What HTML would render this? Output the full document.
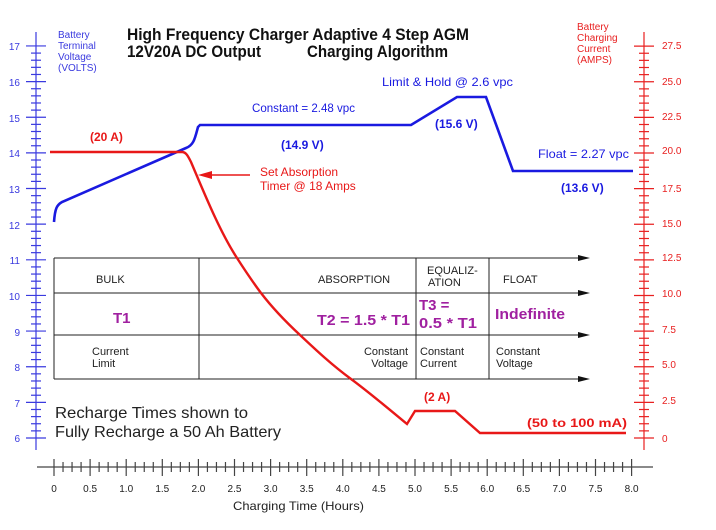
<!DOCTYPE html>
<html><head><meta charset="utf-8"><style>
body{margin:0;background:#fff}
svg text{font-family:"Liberation Sans",sans-serif}
</style></head><body>
<svg width="716" height="525" viewBox="0 0 716 525" xmlns="http://www.w3.org/2000/svg">
<g id="lax" stroke="#3a3adf" stroke-width="1.2"></g>
<g id="rax" stroke="#e82020" stroke-width="1.2"></g>
<g id="xax" stroke="#444" stroke-width="1.2"></g>
<g font-size="10" fill="#3a3adf">
<text x="20" y="50" text-anchor="end">17</text><text x="20" y="86" text-anchor="end">16</text><text x="20" y="122" text-anchor="end">15</text><text x="20" y="157" text-anchor="end">14</text><text x="20" y="193" text-anchor="end">13</text><text x="20" y="229" text-anchor="end">12</text><text x="20" y="264" text-anchor="end">11</text><text x="20" y="300" text-anchor="end">10</text><text x="20" y="336" text-anchor="end">9</text><text x="20" y="371" text-anchor="end">8</text><text x="20" y="407" text-anchor="end">7</text><text x="20" y="442" text-anchor="end">6</text>
<text x="58" y="38">Battery</text><text x="58" y="49">Terminal</text><text x="58" y="60">Voltage</text><text x="58" y="71">(VOLTS)</text>
</g>
<g font-size="10" fill="#e82020">
<text x="662" y="49">27.5</text><text x="662" y="85">25.0</text><text x="662" y="120">22.5</text><text x="662" y="154">20.0</text><text x="662" y="192">17.5</text><text x="662" y="227">15.0</text><text x="662" y="261">12.5</text><text x="662" y="297">10.0</text><text x="662" y="333">7.5</text><text x="662" y="368">5.0</text><text x="662" y="404">2.5</text><text x="662" y="442">0</text>
<text x="577" y="30">Battery</text><text x="577" y="41">Charging</text><text x="577" y="52">Current</text><text x="577" y="63">(AMPS)</text>
</g>
<g font-size="17" font-weight="bold" fill="#111"><text x="127" y="40" textLength="342" lengthAdjust="spacingAndGlyphs">High Frequency Charger Adaptive 4 Step AGM</text><text x="127" y="57" textLength="134" lengthAdjust="spacingAndGlyphs">12V20A DC Output</text><text x="307" y="57" textLength="141" lengthAdjust="spacingAndGlyphs">Charging Algorithm</text></g>
<g stroke="#222" stroke-width="1" fill="none">
<line x1="54" y1="258" x2="580" y2="258"/><line x1="54" y1="293" x2="580" y2="293"/><line x1="54" y1="335" x2="580" y2="335"/><line x1="54" y1="379" x2="580" y2="379"/>
<line x1="54" y1="258" x2="54" y2="379"/><line x1="199" y1="258" x2="199" y2="379"/><line x1="416" y1="258" x2="416" y2="379"/><line x1="489" y1="258" x2="489" y2="379"/>
</g>
<g fill="#111"><polygon points="578,255 590,258 578,261"/><polygon points="578,290 590,293 578,296"/><polygon points="578,332 590,335 578,338"/><polygon points="578,376 590,379 578,382"/></g>
<g font-size="11" fill="#222">
<text x="96" y="283">BULK</text><text x="318" y="283">ABSORPTION</text><text x="427" y="274">EQUALIZ-</text><text x="428" y="286">ATION</text><text x="503" y="283">FLOAT</text>
<text x="92" y="355">Current</text><text x="92" y="367">Limit</text>
<text x="408" y="355" text-anchor="end">Constant</text><text x="408" y="367" text-anchor="end">Voltage</text>
<text x="420" y="355">Constant</text><text x="420" y="367">Current</text>
<text x="496" y="355">Constant</text><text x="496" y="367">Voltage</text>
</g>
<g font-size="15" font-weight="bold" fill="#a020a0">
<text x="113" y="323">T1</text><text x="410" y="325" text-anchor="end" textLength="93" lengthAdjust="spacingAndGlyphs">T2 = 1.5 * T1</text><text x="419" y="310">T3 =</text><text x="419" y="328" textLength="58" lengthAdjust="spacingAndGlyphs">0.5 * T1</text><text x="495" y="319" textLength="70" lengthAdjust="spacingAndGlyphs">Indefinite</text>
</g>
<path d="M54,222 C55,208 57,205 62,202 L186,148 C194,145 195,138 198,127 L200,125 L411,125 L457,97 L486,97 L513,171 L633,171" fill="none" stroke="#1a1ae0" stroke-width="2.6"/>
<path d="M50,152 L182,152 C186,152 188,156 191,162 C205,195 220,232 237,258 C246,272 252,281 261,293 C274,310 286,322 300,335 C317,351 332,365 351,379 C370,393 390,410 407,424 L415,411 L455,411 L480,433 L626,433" fill="none" stroke="#e81818" stroke-width="2.4"/>
<line x1="210" y1="175" x2="250" y2="175" stroke="#e81818" stroke-width="1.5"/><polygon points="198,175 212,171 212,179" fill="#e81818"/>
<g font-size="12" fill="#1a1ae0">
<text x="252" y="112" textLength="103" lengthAdjust="spacingAndGlyphs">Constant = 2.48 vpc</text><text x="382" y="86" textLength="131" lengthAdjust="spacingAndGlyphs">Limit &amp; Hold @ 2.6 vpc</text><text x="538" y="158" textLength="91" lengthAdjust="spacingAndGlyphs">Float = 2.27 vpc</text>
</g>
<g font-size="12" font-weight="bold" fill="#1a1ae0"><text x="281" y="149">(14.9 V)</text><text x="435" y="128">(15.6 V)</text><text x="561" y="192">(13.6 V)</text></g>
<g font-size="12" font-weight="bold" fill="#e81818"><text x="90" y="141">(20 A)</text><text x="424" y="401">(2 A)</text><text x="527" y="427" textLength="100" lengthAdjust="spacingAndGlyphs">(50 to 100 mA)</text></g>
<g font-size="12" fill="#e81818"><text x="260" y="176">Set Absorption</text><text x="260" y="190">Timer @ 18 Amps</text></g>
<g font-size="16" fill="#222"><text x="55" y="418" textLength="193" lengthAdjust="spacingAndGlyphs">Recharge Times shown to</text><text x="55" y="437" textLength="226" lengthAdjust="spacingAndGlyphs">Fully Recharge a 50 Ah Battery</text></g>
<text x="233" y="510" font-size="12" fill="#222" textLength="131" lengthAdjust="spacingAndGlyphs">Charging Time (Hours)</text>
<g id="xl" font-size="10" fill="#222" text-anchor="middle"></g>
<script>
var ns="http://www.w3.org/2000/svg";
function ln(g,x1,y1,x2,y2){var l=document.createElementNS(ns,"line");l.setAttribute("x1",x1);l.setAttribute("y1",y1);l.setAttribute("x2",x2);l.setAttribute("y2",y2);document.getElementById(g).appendChild(l);}
ln("lax",36,32,36,450);
for(var i=0;i<=55;i++){var y=438-i*0.2*35.64;var maj=i%5==0;ln("lax",maj?26:31,y,maj?46:41,y);}
ln("rax",644,32,644,450);
for(var i=0;i<=55;i++){var y=438-i*0.5*14.25;var maj=i%5==0;ln("rax",maj?634:639,y,maj?654:649,y);}
ln("xax",37,467,653,467);
var xl=document.getElementById("xl");
for(var i=0;i<=64;i++){var x=54+i*0.125*72.2;var maj=i%4==0;ln("xax",x,maj?459:462,x,maj?476:472);
if(maj){var t=document.createElementNS(ns,"text");t.setAttribute("x",x);t.setAttribute("y",492);t.textContent=i==0?"0":(i/8).toFixed(1);xl.appendChild(t);}}
</script>
</svg>
</body></html>
